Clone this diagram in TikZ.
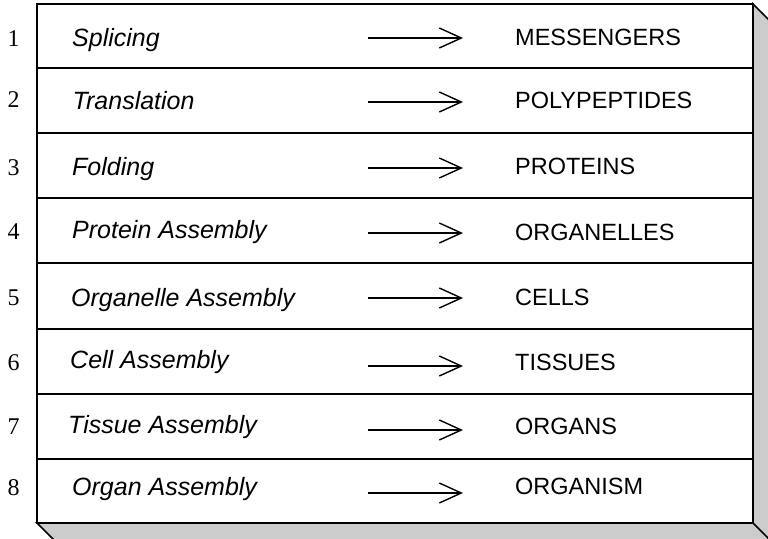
\documentclass[tikz,border=0pt]{standalone}
\usepackage{fontspec}
\setmainfont{Liberation Sans}
\newfontfamily\numfont{Liberation Serif}
\usetikzlibrary{arrows.meta}
\begin{document}
\begin{tikzpicture}[x=1pt,y=-1pt,
  lab/.style={anchor=base west,inner sep=0pt,font=\fontsize{25}{30}\selectfont\itshape},
  res/.style={anchor=base west,inner sep=0pt,font=\fontsize{23.5}{28}\selectfont},
  num/.style={anchor=base,inner sep=0pt,font=\numfont\fontsize{24}{28}\selectfont},
  arr/.style={line width=1.5pt,-{Straight Barb[length=22pt,width=20pt,line width=1.4pt]}},
  rowrule/.style={line width=2pt},
  shadowface/.style={fill=black!20,draw=black,line width=1.6pt,line join=miter}]
\useasboundingbox (0,0) rectangle (768,538);
% shadow / depth faces
\begin{scope}
  \clip (0,0) rectangle (768,538);
  \draw[shadowface] (753,4) -- (771,22) -- (771,541) -- (55,541) -- (37,523) -- (753,523) -- cycle;
  \draw[line width=1.6pt] (753,523) -- (771,541);
\end{scope}
% main box
\draw[line width=2pt,fill=white] (37,4) rectangle (753,523);
\foreach \y in {68,133,198,263,329,394,459}
  \draw[rowrule] (37,\y) -- (753,\y);
% rows
\foreach \i/\lx/\ly/\lt/\ry/\rt/\ay/\ny in {
  1/72/46/Splicing/45/MESSENGERS/38/46,
  2/72.5/109/Translation/108/POLYPEPTIDES/102/107,
  3/72/175/Folding/174/PROTEINS/168/175,
  4/72/238/Protein Assembly/240/ORGANELLES/233/239,
  5/71/306/Organelle Assembly/305/CELLS/298/305,
  6/70/368/Cell Assembly/370/TISSUES/366/370,
  7/68/433/Tissue Assembly/434/ORGANS/430/434,
  8/72/495/Organ Assembly/494/ORGANISM/493/495}
{
  \node[num] (n\i) at (13.5,\ny) {\i};
  \node[lab] (l\i) at (\lx,\ly) {\lt};
  \node[res] (r\i) at (515,\ry) {\rt};
  \coordinate (as\i) at (368,\ay);
  \coordinate (ae\i) at (463,\ay);
  \draw[arr] (as\i) -- (ae\i);
}
\end{tikzpicture}
\end{document}
